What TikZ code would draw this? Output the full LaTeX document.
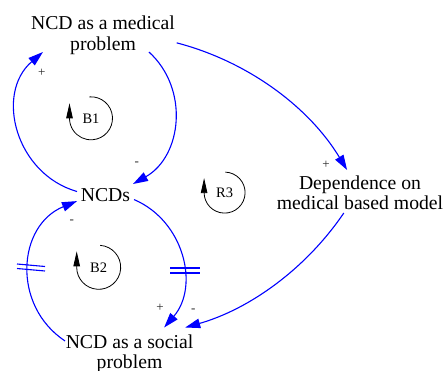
\documentclass[tikz,border=0pt]{standalone}
\usepackage{fontspec}
\setmainfont{Liberation Serif}
\newfontfamily\diagfont{Liberation Serif}
\usetikzlibrary{arrows.meta}
\definecolor{linkblue}{RGB}{0,0,255}
\begin{document}
\begin{tikzpicture}[x=1pt,y=1pt,
  var/.style={inner sep=0pt,outer sep=0pt,align=center,font=\diagfont\fontsize{19.7}{20.5}\selectfont},
  link/.style={draw=linkblue,line width=1.1pt},
  arrowlink/.style={link,-{Triangle[length=15pt,width=9.5pt]}},
  delaymark/.style={draw=linkblue,line width=1.1pt},
  sign/.style={inner sep=0pt,font=\diagfont\fontsize{13}{13}\selectfont,text=black!85},
  looplabel/.style={inner sep=0pt,font=\diagfont\fontsize{14.5}{15}\selectfont},
  loopcircle/.style={draw=black,line width=0.8pt,-{Triangle[length=15pt,width=6.5pt]}}]
\fill[white] (0,0) rectangle (444,-371);
\useasboundingbox (0,0) rectangle (444,-371);

% variables
\node[var,minimum width=147.4pt,text height=37.5pt,text depth=1.5pt] (med) at (103,-32.5) {NCD as a medical\\problem};
\node[var,minimum width=57pt,text height=17.5pt,text depth=2.5pt] (ncds) at (105.5,-194) {NCDs};
\node[var,minimum width=129pt,text height=41pt,text depth=4pt] (soc) at (129.5,-350) {NCD as a social\\problem};
\node[var,minimum width=168pt,text height=40pt,text depth=3pt] (dep) at (360,-191.5) {Dependence on\\medical based model};

% causal links
\draw[arrowlink] (med.-23.4) .. controls (189.6,-89.0) and (181.9,-156.3) .. (ncds.20);
\draw[arrowlink] (ncds.175.4) .. controls (15.7,-174) and (-5.4,-93.5) .. (med.-162);
\draw[arrowlink] (med.-8.3) .. controls (247.8,-61.4) and (309.0,-107.0) .. (dep.121.7);
\draw[arrowlink] (dep.-127.8) .. controls (306.1,-268.6) and (249.8,-309.1) .. (soc.22.1);
\draw[arrowlink] (ncds.-11.9) .. controls (184.2,-221.0) and (199.6,-286.4) .. (soc.33.9);
\draw[arrowlink] (soc.172.9) .. controls (11.6,-305.6) and (17.2,-225.5) .. (ncds.-166.2);

% delay marks
\draw[delaymark] (17,-264) -- (45,-266.5);
\draw[delaymark] (17,-268.5) -- (45,-271);
\draw[delaymark] (170,-268) -- (200,-268);
\draw[delaymark] (170,-273) -- (200,-273);

% polarities
\node[sign] (p1) at (41.7,-73.3) {+};
\node[sign] (m1) at (136.7,-164) {-};
\node[sign] (p2) at (326,-165) {+};
\node[sign] (m2) at (193.3,-311) {-};
\node[sign] (p3) at (160,-307.7) {+};
\node[sign] (m3) at (71.7,-222) {-};

% loop identifiers
\node[looplabel] (b1) at (91,-118.3) {B1};
\draw[loopcircle] (b1.center) ++(94:21.5) arc[start angle=94,end angle=-180,radius=21.5] -- ++(0,15);
\node[looplabel] (b2) at (98.7,-267.3) {B2};
\draw[loopcircle] (b2.center) ++(86:22) arc[start angle=86,end angle=-180,radius=22] -- ++(0,16);
\node[looplabel] (r3) at (224.6,-192.6) {R3};
\draw[loopcircle] (r3.center) ++(88:20.5) arc[start angle=88,end angle=-180,radius=20.5] -- ++(0,14.5);
\end{tikzpicture}
\end{document}
